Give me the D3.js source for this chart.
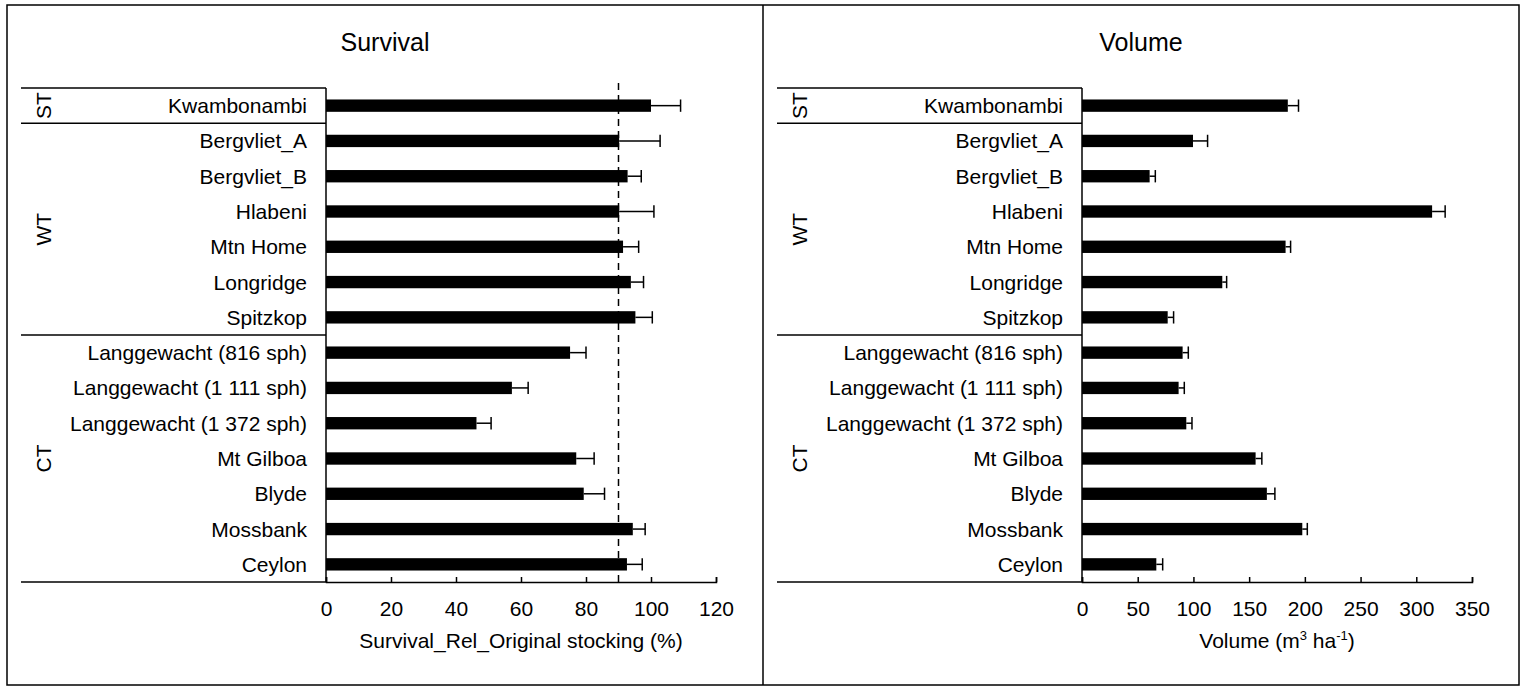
<!DOCTYPE html>
<html>
<head>
<meta charset="utf-8">
<script src="https://cdn.jsdelivr.net/npm/d3@7"></script>
<style>
  html, body { margin: 0; padding: 0; background: #fff; }
  svg { display: block; }
  text { font-family: "Liberation Sans", Arial, sans-serif; fill: #000; }
</style>
</head>
<body>
<svg id="chart" width="1523" height="686"></svg>
<script>
// Sites, grouped by region type
const sites = [
  "Kwambonambi",
  "Bergvliet_A", "Bergvliet_B", "Hlabeni", "Mtn Home", "Longridge", "Spitzkop",
  "Langgewacht (816 sph)", "Langgewacht (1 111 sph)", "Langgewacht (1 372 sph)",
  "Mt Gilboa", "Blyde", "Mossbank", "Ceylon"
];
const groupNames = ["ST", "WT", "CT"];
const groupSizes = [1, 6, 7];

// Survival relative to original stocking (%), mean and error
const survival    = [100.0, 90.2, 92.8, 90.2, 91.4, 93.8, 95.2, 75.1, 57.2, 46.3, 77.0, 79.3, 94.4, 92.6];
const survivalErr = [  9.1, 12.6,  4.2, 10.7,  4.8,  3.9,  5.2,  4.9,  5.0,  4.5,  5.5,  6.4,  3.8,  4.7];
const survivalTicks = [0, 20, 40, 60, 80, 100, 120];
const survivalRef = 90;

// Volume (m3 ha-1), mean and error
const volume    = [184.7, 99.6, 60.7, 314.2, 182.7, 125.9, 76.9, 90.3, 86.7, 93.6, 155.8, 165.9, 197.7, 66.7];
const volumeErr = [  9.6, 13.1,  5.1,  11.7,   4.5,   3.9,  5.3,  5.1,  5.1,  5.1,   5.6,   7.2,   4.5,  5.7];
const volumeTicks = [0, 50, 100, 150, 200, 250, 300, 350];

const svg = d3.select("#chart");
const LW = 1.5;

// Outer frame and the divider between the two panels
const frame = { left: 7, right: 1519, top: 5, bottom: 685, mid: 763 };
svg.append("rect")
  .attr("x", frame.left).attr("y", frame.top)
  .attr("width", frame.right - frame.left).attr("height", frame.bottom - frame.top)
  .attr("fill", "none").attr("stroke", "#000").attr("stroke-width", LW);
svg.append("line")
  .attr("x1", frame.mid).attr("x2", frame.mid)
  .attr("y1", frame.top).attr("y2", frame.bottom)
  .attr("stroke", "#000").attr("stroke-width", LW);

function drawPanel(opt) {
  const g = svg.append("g").attr("transform", `translate(${opt.x0},0)`);
  const tableLeft = 14, axisX = 319, axisW = 390;
  const top = 88, bottom = 582;

  const x = d3.scaleLinear().domain([0, opt.max]).range([axisX, axisX + axisW]);
  const y = d3.scaleBand().domain(sites).range([top, bottom])
    .paddingInner(0.65).paddingOuter(0.325);

  // Panel title
  g.append("text")
    .attr("x", (frame.mid - frame.left) / 2).attr("y", 51)
    .attr("text-anchor", "middle").attr("font-size", 25)
    .text(opt.title);

  // Table-style row labels with group separators
  const step = y.step();
  const hline = (yy) => g.append("line")
    .attr("x1", tableLeft).attr("x2", axisX).attr("y1", yy).attr("y2", yy)
    .attr("stroke", "#000").attr("stroke-width", LW);
  hline(top);
  let start = 0;
  groupNames.forEach((name, i) => {
    const y0 = top + start * step;
    const y1 = top + (start + groupSizes[i]) * step;
    hline(y1);
    g.append("text")
      .attr("transform", `translate(36,${(y0 + y1) / 2}) rotate(-90)`)
      .attr("text-anchor", "middle").attr("dy", "0.36em")
      .attr("font-size", 21)
      .text(name);
    start += groupSizes[i];
  });
  g.append("line")
    .attr("x1", axisX).attr("x2", axisX).attr("y1", top).attr("y2", bottom)
    .attr("stroke", "#000").attr("stroke-width", LW);

  g.selectAll("text.site").data(sites).join("text")
    .attr("class", "site")
    .attr("x", axisX - 19)
    .attr("y", d => y(d) + y.bandwidth() / 2)
    .attr("dy", "0.36em").attr("text-anchor", "end").attr("font-size", 21)
    .text(d => d);

  // Bars
  g.selectAll("rect.bar").data(sites).join("rect")
    .attr("class", "bar")
    .attr("x", x(0))
    .attr("y", d => y(d))
    .attr("width", (d, i) => x(opt.values[i]) - x(0))
    .attr("height", y.bandwidth())
    .attr("fill", "#000");

  // One-sided error bars
  const eb = g.selectAll("g.err").data(sites).join("g").attr("class", "err");
  eb.append("line")
    .attr("x1", (d, i) => x(opt.values[i]))
    .attr("x2", (d, i) => x(opt.values[i] + opt.errors[i]))
    .attr("y1", d => y(d) + y.bandwidth() / 2)
    .attr("y2", d => y(d) + y.bandwidth() / 2)
    .attr("stroke", "#000").attr("stroke-width", LW);
  eb.append("line")
    .attr("x1", (d, i) => x(opt.values[i] + opt.errors[i]))
    .attr("x2", (d, i) => x(opt.values[i] + opt.errors[i]))
    .attr("y1", d => y(d))
    .attr("y2", d => y(d) + y.bandwidth())
    .attr("stroke", "#000").attr("stroke-width", LW);

  // Reference line
  if (opt.ref != null) {
    g.append("line")
      .attr("x1", x(opt.ref)).attr("x2", x(opt.ref))
      .attr("y1", 83).attr("y2", bottom)
      .attr("stroke", "#000").attr("stroke-width", LW)
      .attr("stroke-dasharray", "7,5");
  }

  // X axis
  const ax = g.append("g").attr("transform", `translate(0,${bottom})`)
    .call(d3.axisBottom(x).tickValues(opt.ticks).tickSizeInner(-5).tickSizeOuter(-5)
      .tickPadding(19).tickFormat(d3.format("d")));
  ax.selectAll("path, line").attr("stroke", "#000").attr("stroke-width", LW);
  ax.selectAll("text").attr("font-size", 21)
    .attr("font-family", '"Liberation Sans", Arial, sans-serif').attr("fill", "#000");

  // Axis title
  const t = g.append("text")
    .attr("x", axisX + axisW / 2).attr("y", 648)
    .attr("text-anchor", "middle").attr("font-size", 21);
  opt.label(t);
}

drawPanel({
  x0: frame.left, title: "Survival", max: 120, ticks: survivalTicks,
  values: survival, errors: survivalErr, ref: survivalRef,
  label: t => t.text("Survival_Rel_Original stocking (%)")
});

drawPanel({
  x0: frame.mid, title: "Volume", max: 350, ticks: volumeTicks,
  values: volume, errors: volumeErr, ref: null,
  label: t => {
    t.append("tspan").text("Volume (m");
    t.append("tspan").attr("font-size", 13).attr("dy", -8).text("3");
    t.append("tspan").attr("dy", 8).text(" ha");
    t.append("tspan").attr("font-size", 13).attr("dy", -8).text("-1");
    t.append("tspan").attr("dy", 8).text(")");
  }
});
</script>
</body>
</html>
